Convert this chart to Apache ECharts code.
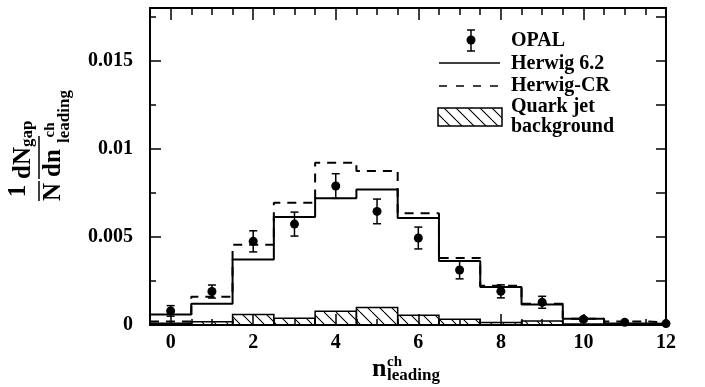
<!DOCTYPE html>
<html>
<head>
<meta charset="utf-8">
<script src="https://cdn.jsdelivr.net/npm/echarts@6/dist/echarts.min.js"></script>
<style>
html, body { margin: 0; padding: 0; background: #fff; }
#chart { width: 705px; height: 387px; }
</style>
</head>
<body>
<div id="chart"></div>
<script>
// Leading-jet charged multiplicity in rapidity-gap events
const nCh      = [0, 1, 2, 3, 4, 5, 6, 7, 8, 9, 10, 11, 12];
const opal     = [0.0008, 0.0019, 0.00475, 0.00573, 0.00789, 0.00645, 0.00494, 0.00312, 0.00191, 0.00129, 0.00032, 0.00015, 0.00008];
const opalErr  = [0.0003, 0.00037, 0.0006, 0.00068, 0.0007, 0.0007, 0.00062, 0.0005, 0.00037, 0.00034, 0.0001, 0.00005, 0.00003];
const herwig   = [0.0006, 0.00121, 0.00372, 0.00613, 0.0072, 0.0077, 0.00607, 0.00363, 0.00216, 0.00117, 0.00035, 0.00008, 0.00005];
const herwigCR = [0.0002, 0.0016, 0.00456, 0.00694, 0.00922, 0.00875, 0.00635, 0.0038, 0.00223, 0.0012, 0.00035, 0.0002, 0.0001];
const quarkBg  = [0.0001, 0.00018, 0.0006, 0.00038, 0.00078, 0.001, 0.00055, 0.00032, 0.00014, 0.00023, 0.00005, 0.00002, 0.00001];

const xTickLabels = [0, 2, 4, 6, 8, 10, 12];
const yTickLabels = [0, 0.005, 0.01, 0.015];
const xMinorStep = 0.5;
const yMinorStep = 0.0025;

const X_MIN = -0.5, X_MAX = 12, Y_MIN = 0, Y_MAX = 0.018;
const BIN = 1;

function stepsOf(start, end, step) {
  const out = [];
  for (let k = Math.ceil(start / step - 1e-9); k * step <= end + 1e-12; k++) out.push(+(k * step).toFixed(6));
  return out;
}
const xMinorTicks = stepsOf(X_MIN, X_MAX, xMinorStep);
const yMinorTicks = stepsOf(Y_MIN, Y_MAX, yMinorStep);

const FONT = '"Liberation Serif", "Times New Roman", serif';

// diagonal hatching used for the quark-jet background
function hatchPattern() {
  const s = 12;
  const c = document.createElement('canvas');
  c.width = s; c.height = s;
  const ctx = c.getContext('2d');
  ctx.strokeStyle = '#000';
  ctx.lineWidth = 1.1;
  ctx.beginPath();
  for (const k of [-s, 0, s]) { ctx.moveTo(k, 0); ctx.lineTo(k + s, s); }
  ctx.stroke();
  return { image: c, repeat: 'repeat' };
}
const hatch = hatchPattern();

// step outline: each bin starts at n - BIN/2
function stepData(vals) {
  const d = nCh.map((n, i) => [n - BIN / 2, vals[i]]);
  d.push([nCh[nCh.length - 1] + BIN / 2, vals[vals.length - 1]]);
  return d;
}

function axisLine(show) {
  return { show, onZero: false, lineStyle: { color: '#000', width: 2 } };
}
function xAx(position, ticks, len, withLabels, line) {
  return {
    type: 'value', min: X_MIN, max: X_MAX, position,
    axisLine: axisLine(line),
    axisTick: { show: true, inside: true, length: len, customValues: ticks, lineStyle: { color: '#000', width: 1.5 } },
    axisLabel: withLabels ? {
      show: true, customValues: xTickLabels, margin: 8,
      color: '#000', fontFamily: FONT, fontWeight: 'bold', fontSize: 20
    } : { show: false },
    splitLine: { show: false }
  };
}
function yAx(position, ticks, len, withLabels, line) {
  return {
    type: 'value', min: Y_MIN, max: Y_MAX, position,
    axisLine: axisLine(line),
    axisTick: { show: true, inside: true, length: len, customValues: ticks, lineStyle: { color: '#000', width: 1.5 } },
    axisLabel: withLabels ? {
      show: true, customValues: yTickLabels, margin: 17,
      color: '#000', fontFamily: FONT, fontWeight: 'bold', fontSize: 20,
      formatter: v => String(v)
    } : { show: false },
    splitLine: { show: false }
  };
}

function txt(text, x, y, size, align, extra) {
  return Object.assign({
    type: 'text',
    style: {
      text, x, y,
      font: 'bold ' + size + 'px ' + FONT,
      fontFamily: FONT, fontWeight: 'bold', fontSize: size,
      fill: '#000',
      align: align, textAlign: align,
      verticalAlign: 'middle', textVerticalAlign: 'middle'
    }
  }, extra || {});
}
function seg(x1, y1, x2, y2, w, dash) {
  return { type: 'line', shape: { x1, y1, x2, y2 }, style: { stroke: '#000', lineWidth: w, lineDash: dash || null } };
}

const chart = echarts.init(document.getElementById('chart'), null, { renderer: 'canvas' });

chart.setOption({
  animation: false,
  backgroundColor: '#fff',
  grid: { left: 150, right: 39, top: 8, bottom: 62 },
  xAxis: [
    xAx('bottom', xTickLabels, 11, true, true),
    xAx('bottom', xMinorTicks, 6, false, false),
    xAx('top', xTickLabels, 12, false, true),
    xAx('top', xMinorTicks, 7, false, false)
  ],
  yAxis: [
    yAx('left', yTickLabels, 11, true, true),
    yAx('left', yMinorTicks, 6, false, false),
    yAx('right', yTickLabels, 10, false, true),
    yAx('right', yMinorTicks, 10, false, false)
  ],
  series: [
    {
      name: 'Quark jet background',
      type: 'custom',
      xAxisIndex: 0, yAxisIndex: 0,
      data: nCh.map((n, i) => [n, quarkBg[i]]),
      encode: { x: 0, y: 1 },
      renderItem(params, api) {
        const n = api.value(0), v = api.value(1);
        const p0 = api.coord([n - BIN / 2, 0]);
        const p1 = api.coord([n + BIN / 2, v]);
        const cs = params.coordSys;
        const r = echarts.graphic.clipRectByRect(
          { x: p0[0], y: p1[1], width: p1[0] - p0[0], height: p0[1] - p1[1] },
          { x: cs.x, y: cs.y, width: cs.width, height: cs.height }
        );
        if (!r) return null;
        return { type: 'rect', shape: r, style: { fill: hatch, stroke: '#000', lineWidth: 1.5 } };
      },
      z: 1
    },
    {
      name: 'Herwig 6.2',
      type: 'line', step: 'end', symbol: 'none',
      xAxisIndex: 0, yAxisIndex: 0,
      data: stepData(herwig),
      lineStyle: { color: '#000', width: 2, type: 'solid' },
      z: 2
    },
    {
      name: 'Herwig-CR',
      type: 'line', step: 'end', symbol: 'none',
      xAxisIndex: 0, yAxisIndex: 0,
      data: stepData(herwigCR),
      lineStyle: { color: '#000', width: 2, type: [9, 7] },
      z: 2
    },
    {
      name: 'OPAL errors',
      type: 'custom',
      xAxisIndex: 0, yAxisIndex: 0,
      data: nCh.map((n, i) => [n, opal[i], opalErr[i]]),
      encode: { x: 0, y: 1 },
      renderItem(params, api) {
        const n = api.value(0), v = api.value(1), e = api.value(2);
        const top = api.coord([n, v + e]);
        const bot = api.coord([n, Math.max(v - e, 0)]);
        const c = 4;
        return {
          type: 'group',
          children: [
            { type: 'line', shape: { x1: top[0], y1: top[1], x2: bot[0], y2: bot[1] }, style: { stroke: '#000', lineWidth: 1.5 } },
            { type: 'line', shape: { x1: top[0] - c, y1: top[1], x2: top[0] + c, y2: top[1] }, style: { stroke: '#000', lineWidth: 1.5 } },
            { type: 'line', shape: { x1: bot[0] - c, y1: bot[1], x2: bot[0] + c, y2: bot[1] }, style: { stroke: '#000', lineWidth: 1.5 } }
          ]
        };
      },
      z: 3
    },
    {
      name: 'OPAL',
      type: 'scatter',
      xAxisIndex: 0, yAxisIndex: 0,
      data: nCh.map((n, i) => [n, opal[i]]),
      symbol: 'circle', symbolSize: 9,
      itemStyle: { color: '#000', opacity: 1 },
      z: 4
    }
  ],
  graphic: [
    // legend
    seg(471, 30, 471, 51, 1.5), seg(467, 30, 475, 30, 1.5), seg(467, 51, 475, 51, 1.5),
    { type: 'circle', shape: { cx: 471, cy: 40, r: 4.5 }, style: { fill: '#000' } },
    txt('OPAL', 511, 41, 20, 'left'),
    seg(439, 63, 500, 63, 1.5),
    txt('Herwig 6.2', 511, 64, 20, 'left'),
    seg(439, 86, 500, 86, 1.5, [8, 9]),
    txt('Herwig-CR', 511, 86, 20, 'left'),
    { type: 'rect', shape: { x: 438, y: 108, width: 64, height: 18 }, style: { fill: hatch, stroke: '#000', lineWidth: 1.5 } },
    txt('Quark jet\nbackground', 511, 117, 20, 'left'),
    // y-axis title: (1/N) dN_gap / dn^ch_leading, written bottom to top
    {
      type: 'group', x: 39, y: 200, rotation: Math.PI / 2,
      children: [
        txt('1', 9, -20, 25, 'center'),
        seg(-1, 0, 19, 0, 1.5),
        txt('N', 8, 15, 25, 'center'),
        txt('dN', 37, -15, 25, 'center'),
        txt('gap', 53, -11, 17, 'left'),
        seg(21, 0, 64, 0, 1.5),
        txt('dn', 37, 15, 25, 'center'),
        txt('ch', 70, 11, 15, 'center'),
        txt('leading', 57, 26, 17, 'left')
      ]
    },
    // x-axis title: n^ch_leading
    txt('n', 372, 369, 26, 'left'),
    txt('ch', 387, 362, 15, 'left'),
    txt('leading', 387, 376, 17, 'left')
  ]
});
</script>
</body>
</html>
